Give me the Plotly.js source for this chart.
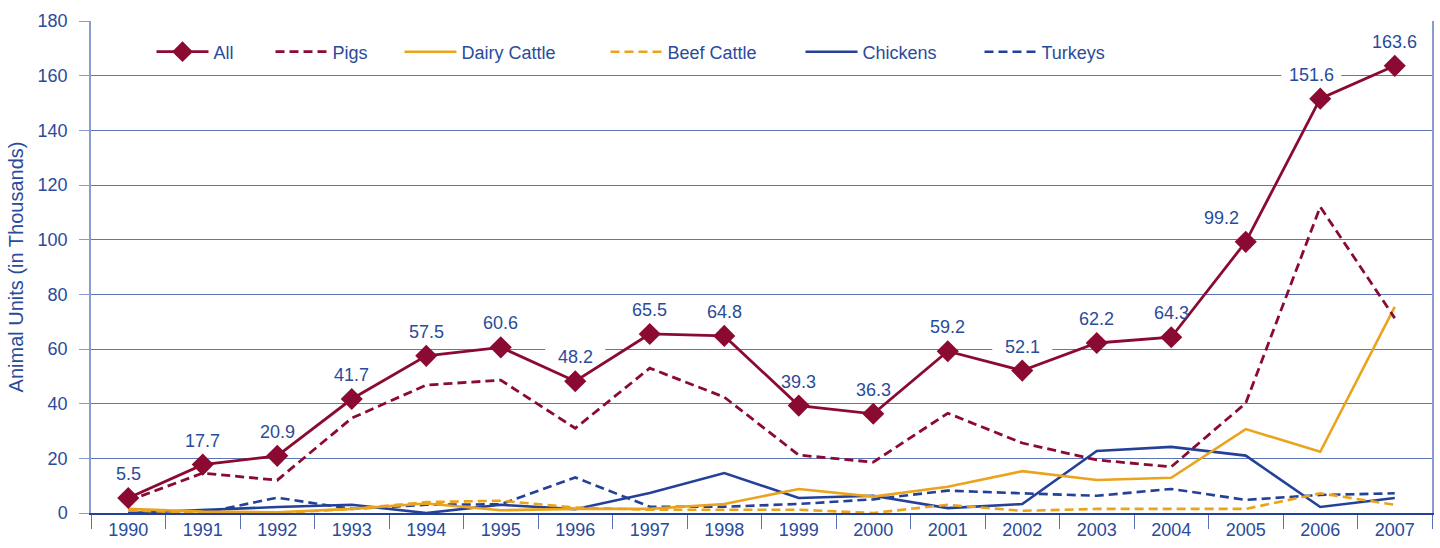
<!DOCTYPE html>
<html>
<head>
<meta charset="utf-8">
<script src="https://cdn.plot.ly/plotly-3.0.1.min.js"></script>
<style>
html,body{margin:0;padding:0;background:#fff;}
#chart{width:1440px;height:548px;}
</style>
</head>
<body>
<div id="chart"></div>
<script>
const years = ['1990','1991','1992','1993','1994','1995','1996','1997','1998','1999','2000','2001','2002','2003','2004','2005','2006','2007'];
const allUnits   = [5.5,17.7,20.9,41.7,57.5,60.6,48.2,65.5,64.8,39.3,36.3,59.2,52.1,62.2,64.3,99.2,151.6,163.6];
const pigs       = [4.5,14.6,12.0,34.7,46.8,48.6,31.0,53.0,42.4,21.2,18.6,36.5,25.6,19.4,16.9,40.2,112.0,71.3];
const dairyCattle= [1.5,0.5,0.3,1.5,3.5,1.0,1.5,1.5,3.3,8.8,6.0,9.6,15.3,12.1,12.9,30.7,22.4,75.4];
const beefCattle = [1.0,0.0,0.0,1.5,4.0,4.5,2.0,1.2,1.2,1.2,0.0,3.0,0.8,1.5,1.5,1.5,7.2,3.0];
const chickens   = [0.0,1.2,2.2,3.0,0.0,3.0,1.4,7.3,14.6,5.5,6.3,1.8,3.3,22.7,24.2,21.0,2.2,5.5];
const turkeys    = [0.0,0.0,5.6,1.5,3.0,3.2,13.0,2.3,2.3,3.3,5.0,8.2,7.2,6.3,8.8,4.8,6.6,7.2];
const seriesNames = ['All','Pigs','Dairy Cattle','Beef Cattle','Chickens','Turkeys'];
const yTicks = [0,20,40,60,80,100,120,140,160,180];

const MAROON = '#8b0a31';
const GOLD = '#eaa31c';
const NAVY = '#24419a';
const TXT = '#2a4b9b';
const FONT = 'Liberation Sans, Arial, Helvetica, sans-serif';
const FS = 18;
const DASH = '9px,5px';

// plot area geometry (pixels) used for legend placement
const PL = 91, PW = 1341;
const legendStartPx = [157, 276, 405, 611, 806, 985];

const traces = [
  {name:seriesNames[5], y:turkeys, line:{color:NAVY,width:2.6,dash:DASH}, legend:'legend6'},
  {name:seriesNames[4], y:chickens, line:{color:NAVY,width:2.6}, legend:'legend5'},
  {name:seriesNames[3], y:beefCattle, line:{color:GOLD,width:2.6,dash:DASH}, legend:'legend4'},
  {name:seriesNames[2], y:dairyCattle, line:{color:GOLD,width:2.6}, legend:'legend3'},
  {name:seriesNames[1], y:pigs, line:{color:MAROON,width:2.8,dash:DASH}, legend:'legend2'},
  {name:seriesNames[0], y:allUnits, line:{color:MAROON,width:2.8}, mode:'lines+markers',
   marker:{symbol:'diamond',size:17,color:MAROON}, legend:'legend'}
].map(t => Object.assign({x:years, type:'scatter', mode:'lines', hoverinfo:'skip'}, t));

const LABEL_DY = 24;
const labelDx = yr => (yr === '2005' ? -24 : (yr === '2006' ? -9 : 0));

const annotations = [];
const shapes = [];
years.forEach((yr,i) => {
  annotations.push({
    x: i, y: allUnits[i], xref:'x', yref:'y',
    text: allUnits[i].toFixed(1),
    showarrow:false, xanchor:'center', yanchor:'middle',
    yshift:LABEL_DY, xshift:labelDx(yr),
    font:{family:FONT,size:FS,color:TXT}
  });
  // white gap in a gridline where the label sits on it (drawn between grid and traces)
  const labelVal = allUnits[i] + 9;
  if (Math.abs(labelVal - Math.round(labelVal/20)*20) < 4) {
    shapes.push({
      type:'rect', layer:'between', xref:'x', yref:'y',
      xsizemode:'pixel', ysizemode:'pixel', xanchor:i, yanchor:allUnits[i],
      x0:labelDx(yr)-30, x1:labelDx(yr)+30, y0:LABEL_DY-10, y1:LABEL_DY+10,
      fillcolor:'#ffffff', line:{width:0}
    });
  }
});

const layout = {
  width:1440, height:548,
  margin:{l:91, r:8, t:21, b:35},
  paper_bgcolor:'#ffffff', plot_bgcolor:'#ffffff',
  font:{family:FONT,size:FS,color:TXT},
  showlegend:true,
  xaxis:{type:'category', range:[-0.5,17.5], tickson:'boundaries', ticks:'outside',
         ticklen:14, tickcolor:'#5a72b4', tickwidth:1.2, showgrid:false,
         showline:true, linecolor:'#24419a', linewidth:1.5,
         tickfont:{family:FONT,size:FS,color:TXT}, fixedrange:true},
  yaxis:{range:[0,180], tickvals:yTicks, ticks:'outside', ticklen:10, tickcolor:'#8a9bd0',
         showgrid:true, gridcolor:'#5d76b6', gridwidth:1, zeroline:false,
         showline:true, linecolor:'#8a9bd0', linewidth:1.5, mirror:true,
         ticklabelstandoff:8,
         tickfont:{family:FONT,size:FS,color:TXT},
         title:{text:'Animal Units (in Thousands)', standoff:9, font:{family:FONT,size:20,color:TXT}},
         fixedrange:true},
  annotations: annotations,
  shapes: shapes
};
['legend','legend2','legend3','legend4','legend5','legend6'].forEach((k,i) => {
  layout[k] = {orientation:'h', x:(legendStartPx[i]-5.5-PL)/PW, y:0.937,
               xanchor:'left', yanchor:'middle', bgcolor:'rgba(255,255,255,0)',
               itemwidth:52, font:{family:FONT,size:FS,color:TXT}};
});

Plotly.newPlot('chart', traces, layout, {displayModeBar:false});
</script>
</body>
</html>
